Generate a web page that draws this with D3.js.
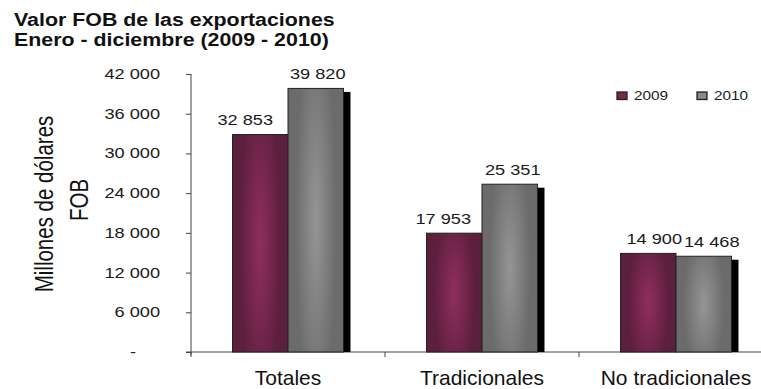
<!DOCTYPE html>
<html>
<head>
<meta charset="utf-8">
<script src="https://cdn.jsdelivr.net/npm/d3@7"></script>
<style>
  body { margin: 0; background: #fff; }
  svg { display: block; font-family: "Liberation Sans", Arial, sans-serif; }
</style>
</head>
<body>
<div id="chart"></div>
<script>
// datos del gráfico
const categories = ["Totales", "Tradicionales", "No tradicionales"];
const series = ["2009", "2010"];
const values2009 = [32853, 17953, 14900];
const values2010 = [39820, 25351, 14468];
const yTicks = [0, 6000, 12000, 18000, 24000, 30000, 36000, 42000];

// ajuste manual de las etiquetas de valor (como en el original)
const labelNudge = { "2009": [-15, -11, 6], "2010": [2, 3, 8] };

const width = 761, height = 389;
const x0 = 191, yTop = 74, yBottom = 352;
const textColor = "#1a1a1a";

const svg = d3.select("#chart").append("svg")
  .attr("width", width).attr("height", height);

// texto algo ensanchado, como en la imagen original
function place(sel, x, y, sx, rot) {
  return sel.attr("transform", `translate(${x},${y}) scale(${sx},1)` + (rot ? ` rotate(${rot})` : ""));
}

// degradados de las barras
const defs = svg.append("defs");
function grad(id, edge, center) {
  const g = defs.append("radialGradient").attr("id", id)
    .attr("cx", "50%").attr("cy", "50%").attr("r", "75%")
    .attr("gradientTransform", "translate(0.25,0) scale(0.5,1)");
  g.append("stop").attr("offset", "0%").attr("stop-color", center);
  g.append("stop").attr("offset", "100%").attr("stop-color", edge);
}
grad("g2009", "#5c1f3e", "#902e5e");
grad("g2010", "#6b6b6b", "#959595");
const fills = { "2009": "url(#g2009)", "2010": "url(#g2010)" };
const legendFills = { "2009": "#7a2550", "2010": "#888" };

// escalas
const y = d3.scaleLinear().domain([0, 42000]).range([yBottom, yTop]);
const x = d3.scaleBand().domain(categories)
  .range([x0, x0 + 3 * 194]).paddingInner(0.428).paddingOuter(0.214);
const xs = d3.scaleBand().domain(series).range([0, x.bandwidth()]);

const fmt = d3.formatLocale({ decimal: ",", thousands: " ", grouping: [3], currency: ["", ""] }).format(",d");

// título
const title = svg.append("g").attr("font-weight", "bold").attr("font-size", 19).attr("fill", "#111");
place(title.append("text"), 14, 26, 1.125).text("Valor FOB de las exportaciones");
place(title.append("text"), 14, 46, 1.125).text("Enero - diciembre (2009 - 2010)");

// eje Y
const yAxis = svg.append("g").attr("transform", `translate(${x0},0)`)
  .call(d3.axisLeft(y).tickValues(yTicks).tickSize(5)
    .tickFormat(d => d === 0 ? "-" : fmt(d)));
yAxis.select(".domain").attr("stroke", "#444").attr("d", `M0,${yTop}V${yBottom + 3}`);
yAxis.selectAll(".tick line").attr("stroke", "#444");
yAxis.selectAll(".tick text")
  .attr("font-size", 14).attr("fill", textColor)
  .attr("font-family", "Liberation Sans, Arial, sans-serif")
  .attr("x", null)
  .each(function(d) { place(d3.select(this), d === 0 ? -55 : -31, 0, 1.3); });

// título del eje Y
const yt = svg.append("g").attr("font-size", 20.5).attr("fill", "#111").attr("text-anchor", "middle");
place(yt.append("text"), 53, 204, 1.22, -90).text("Millones de dólares");
place(yt.append("text"), 88, 200, 1.22, -90).text("FOB");

// eje X
const xAxis = svg.append("g").attr("transform", `translate(0,${yBottom})`);
xAxis.append("line").attr("x1", x0 - 5).attr("x2", width).attr("stroke", "#444");
[0, 1, 2].forEach(i => {
  xAxis.append("line").attr("x1", x0 + i * x.step()).attr("x2", x0 + i * x.step())
    .attr("y1", 0).attr("y2", 5).attr("stroke", "#444");
});
xAxis.selectAll("text.cat").data(categories).join("text")
  .attr("class", "cat")
  .attr("x", d => x(d) + x.bandwidth() / 2)
  .attr("y", 32.5)
  .attr("text-anchor", "middle").attr("font-size", 21).attr("fill", "#111")
  .text(d => d);

// barras
const rows = categories.map((c, i) => ({ cat: c, i: i, vals: [
  { s: "2009", v: values2009[i], i: i }, { s: "2010", v: values2010[i], i: i }] }));

const groups = svg.append("g").selectAll("g").data(rows).join("g")
  .attr("transform", d => `translate(${x(d.cat)},0)`);

// sombra
groups.append("rect")
  .attr("x", d => xs("2010") + 7)
  .attr("y", d => y(d.vals[1].v) + 3.5)
  .attr("width", xs.bandwidth())
  .attr("height", d => yBottom - y(d.vals[1].v) - 3.5)
  .attr("fill", "#000");

groups.selectAll("rect.bar").data(d => d.vals).join("rect")
  .attr("class", "bar")
  .attr("x", d => xs(d.s))
  .attr("y", d => y(d.v))
  .attr("width", xs.bandwidth())
  .attr("height", d => yBottom - y(d.v))
  .attr("fill", d => fills[d.s])
  .attr("stroke", "#222").attr("stroke-width", 1);

groups.selectAll("text.val").data(d => d.vals).join("text")
  .attr("class", "val")
  .attr("text-anchor", "middle").attr("font-size", 14).attr("fill", textColor)
  .each(function(d) {
    place(d3.select(this), xs(d.s) + xs.bandwidth() / 2 + labelNudge[d.s][d.i], y(d.v) - 9.5, 1.3);
  })
  .text(d => fmt(d.v));

// leyenda
const legend = svg.append("g").selectAll("g").data(series).join("g")
  .attr("transform", (d, i) => `translate(${617 + i * 80},92)`);
legend.append("rect").attr("width", 10).attr("height", 7.5)
  .attr("fill", d => legendFills[d]).attr("stroke", "#222").attr("stroke-width", 1.3);
legend.append("text").attr("font-size", 13).attr("fill", textColor)
  .each(function() { place(d3.select(this), 17, 7.5, 1.18); })
  .text(d => d);
</script>
</body>
</html>
